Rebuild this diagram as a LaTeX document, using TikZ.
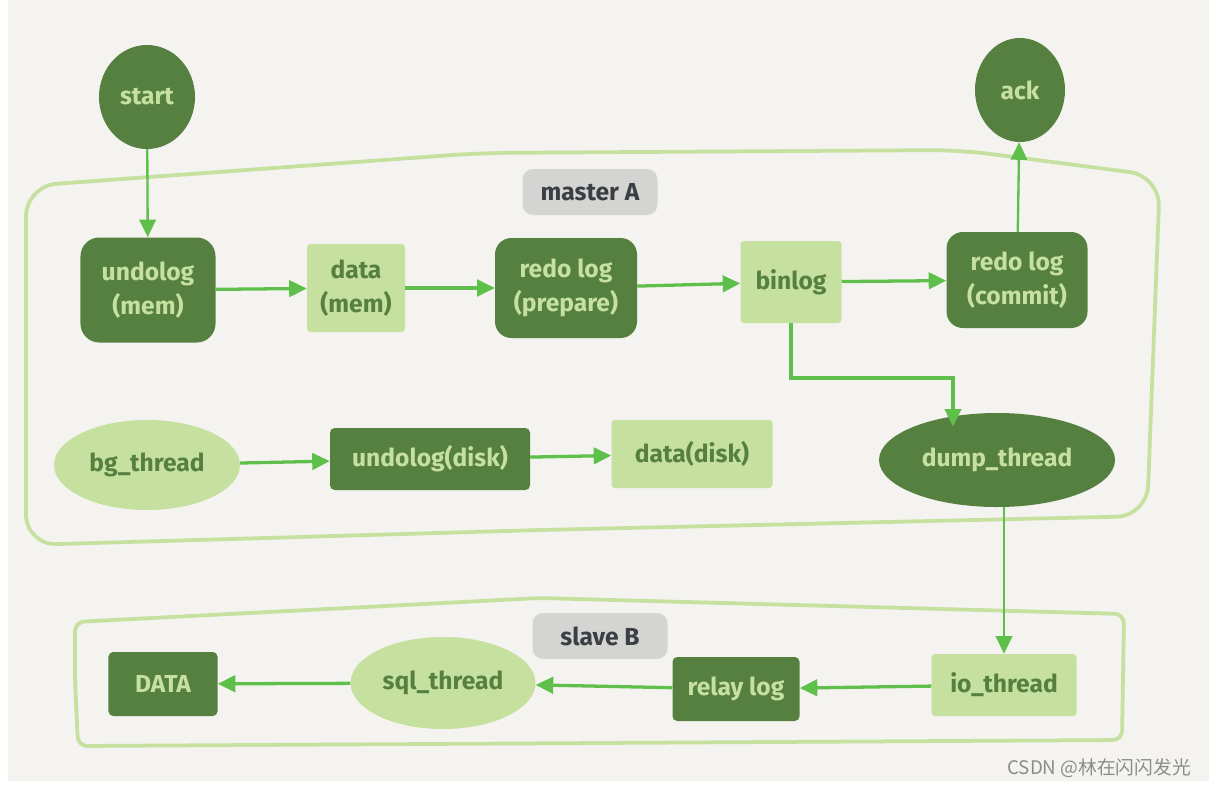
\documentclass[tikz,border=0pt]{standalone}
\usepackage{fontspec}
\setmainfont{Fira Sans}
\newfontfamily\cjkfont{Noto Sans CJK SC}
\usetikzlibrary{shapes.geometric, arrows.meta, positioning}
\definecolor{paper}{RGB}{244, 243, 239}
\definecolor{darkleaf}{RGB}{86, 128, 63}
\definecolor{lightleaf}{RGB}{197, 224, 159}
\definecolor{arrowgreen}{RGB}{94, 192, 74}
\definecolor{tagfill}{RGB}{212, 212, 210}
\definecolor{tagtext}{RGB}{58, 63, 68}

\begin{document}
\begin{tikzpicture}[x=0.03cm, y=-0.03cm,
    dbox/.style={rectangle, rounded corners=#1, fill=darkleaf, text=lightleaf,
        align=center, font=\bfseries\fontsize{21}{29}\selectfont, inner sep=2pt},
    dbox/.default=4pt,
    lbox/.style={rectangle, rounded corners=3pt, fill=lightleaf, text=darkleaf,
        align=center, font=\bfseries\fontsize{21}{29}\selectfont, inner sep=2pt},
    dround/.style={ellipse, fill=darkleaf, text=lightleaf, inner sep=0pt,
        font=\bfseries\fontsize{21}{24}\selectfont},
    lround/.style={ellipse, fill=lightleaf, text=darkleaf, inner sep=0pt,
        font=\bfseries\fontsize{21}{24}\selectfont},
    tag/.style={rectangle, rounded corners=9pt, fill=tagfill, text=tagtext,
        minimum width=4.05cm, minimum height=1.38cm, font=\bfseries\fontsize{21}{24}\selectfont},
    frame/.style={draw=lightleaf, line width=3.2pt, rounded corners=#1},
    arr/.style={-{Triangle[length=15pt, width=14pt]}, line width=#1, arrowgreen},
    arr/.default=2.8pt
]

% canvas
\useasboundingbox (0,0) rectangle (1209,787);
\fill[white] (0,0) rectangle (1209,787);
\fill[paper] (8,0) rectangle (1209,781);

% master A frame
\draw[frame=26pt] (26,360) -- (26,186) -- (480,153) -- (960,150) -- (1160,176)
    -- (1147,516) -- (540,530) -- (26,545) -- cycle;
\node[tag] (master) at (590,192) {master A};

% top row
\node[dround, minimum width=2.88cm, minimum height=3.12cm] (start) at (147,97) {start};
\node[dround, minimum width=2.7cm, minimum height=3.12cm] (ack) at (1020,90) {ack};

\node[dbox=16pt, minimum width=4.05cm, minimum height=3.15cm] (undomem) at (148,290) {undolog\\(mem)};
\node[lbox, minimum width=2.94cm, minimum height=2.64cm] (datamem) at (356,288) {data\\(mem)};
\node[dbox=14pt, minimum width=4.26cm, minimum height=3.0cm] (redoprep) at (566,288) {redo log\\(prepare)};
\node[lbox, minimum width=3.03cm, minimum height=2.46cm] (binlog) at (791,282) {binlog};
\node[dbox=14pt, minimum width=4.23cm, minimum height=2.88cm] (redocommit) at (1017,280) {redo log\\(commit)};

\draw[arr=2pt] (start) -- (undomem);
\draw[arr] (undomem) -- (datamem);
\draw[arr] (datamem) -- (redoprep);
\draw[arr] (redoprep) -- (binlog);
\draw[arr] (binlog) -- (redocommit);
\draw[arr=2pt] (redocommit) -- (ack);

% background flush
\node[lround, minimum width=5.58cm, minimum height=2.7cm] (bgthread) at (147,465) {bg\_thread};
\node[dbox, minimum width=6.0cm, minimum height=1.86cm] (undodisk) at (430,459) {undolog(disk)};
\node[lbox, minimum width=4.83cm, minimum height=2.04cm] (datadisk) at (692,454) {data(disk)};
\node[dround, minimum width=7.08cm, minimum height=2.82cm] (dump) at (997,460) {dump\_thread};

\draw[arr] (bgthread) -- (undodisk);
\draw[arr] (undodisk) -- (datadisk);
\coordinate (turn) at (953,378);
\draw[arr] (binlog.south) |- (turn) -- (turn |- dump.north west);

% slave B frame
\draw[frame=8pt] (75,680) -- (75,622) -- (540,598) -- (1124,614) -- (1122,740)
    -- (78,746) -- cycle;
\node[tag] (slave) at (600,636) {slave B};

\node[dbox, minimum width=3.27cm, minimum height=1.92cm] (DATA) at (163,684) {DATA};
\node[lround, minimum width=5.55cm, minimum height=2.76cm] (sqlthread) at (443,683) {sql\_thread};
\node[dbox, minimum width=3.81cm, minimum height=1.92cm] (relaylog) at (736,689) {relay log};
\node[lbox, minimum width=4.35cm, minimum height=1.86cm] (iothread) at (1004,685) {io\_thread};

\draw[arr=2.2pt] (iothread.north |- dump.south) -- (iothread.north);
\draw[arr] (iothread) -- (relaylog);
\draw[arr] (relaylog) -- (sqlthread);
\draw[arr] (sqlthread) -- (DATA);

% watermark
\node[text=black!45, font=\cjkfont\fontsize{16}{18}\selectfont, anchor=east] (mark) at (1195,768) {CSDN @林在闪闪发光};

\end{tikzpicture}
\end{document}
